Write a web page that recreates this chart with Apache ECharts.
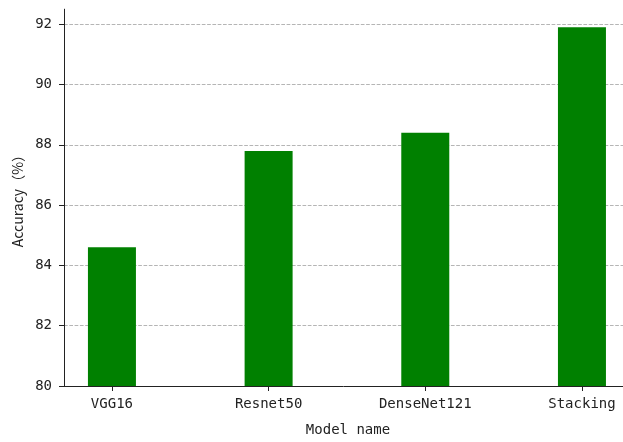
<!DOCTYPE html>
<html>
<head>
<meta charset="utf-8">
<script src="https://cdn.jsdelivr.net/npm/echarts@6/dist/echarts.min.js"></script>
<style>
  html, body { margin: 0; padding: 0; background: #ffffff; }
  #chart { width: 623px; height: 442px; }
</style>
</head>
<body>
<div id="chart"></div>
<script>
// Model accuracy comparison
const categories = ['VGG16', 'Resnet50', 'DenseNet121', 'Stacking'];
const accuracy = [84.6, 87.8, 88.4, 91.9];
const yTicks = [80, 82, 84, 86, 88, 90, 92];

const FONT = 'DejaVu Sans Mono';
const TEXT = '#222222';

const chart = echarts.init(document.getElementById('chart'), null, { renderer: 'canvas' });

const catIndex = categories.map((_, i) => i);

chart.setOption({
  animation: false,
  backgroundColor: '#ffffff',
  grid: { left: 64, right: 0, top: 9.2, bottom: 50, containLabel: false },
  xAxis: {
    type: 'value',
    min: -0.306,
    max: 3.262,
    name: 'Model name',
    nameLocation: 'middle',
    nameGap: 37,
    nameTextStyle: { fontFamily: FONT, fontSize: 14, color: TEXT, padding: [0, 0, 0, 9] },
    axisLine: { show: true, onZero: false, lineStyle: { color: '#222222', width: 1 } },
    axisTick: { show: true, length: 5, customValues: catIndex, lineStyle: { color: '#222222' } },
    axisLabel: {
      customValues: catIndex,
      margin: 11,
      fontFamily: FONT,
      fontSize: 14,
      color: TEXT,
      formatter: v => categories[Math.round(v)] ?? ''
    },
    splitLine: { show: false }
  },
  yAxis: {
    type: 'value',
    min: 80,
    max: 92.5,
    interval: 2,
    name: 'Accuracy（%）',
    nameLocation: 'middle',
    nameGap: 38,
    nameTextStyle: { fontFamily: 'Noto Sans CJK SC', fontSize: 14, color: TEXT, padding: [0, 0, 0, 0] },
    axisLine: { show: true, onZero: false, lineStyle: { color: '#222222', width: 1 } },
    axisTick: { show: true, length: 5, customValues: yTicks, lineStyle: { color: '#222222' } },
    axisLabel: {
      customValues: yTicks,
      margin: 12,
      fontFamily: FONT,
      fontSize: 14,
      color: TEXT
    },
    splitLine: {
      show: true,
      showMinLine: false,
      showMaxLine: true,
      lineStyle: { color: '#b5b5b5', width: 1, type: [3.7, 1.6] }
    }
  },
  series: [{
    type: 'bar',
    data: accuracy.map((v, i) => [i, v]),
    barWidth: 48,
    itemStyle: { color: '#008000' }
  }]
});
</script>
</body>
</html>
